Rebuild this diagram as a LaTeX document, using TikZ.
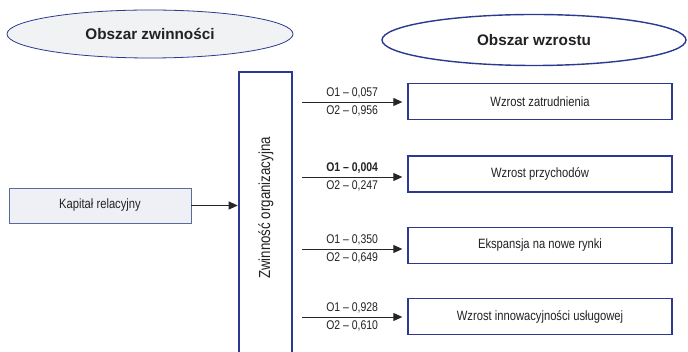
\documentclass[tikz,border=0pt]{standalone}
\usepackage{fontspec}
\setmainfont{Liberation Sans}
\newfontfamily\narrowsans[FakeStretch=0.83]{Liberation Sans}
\usetikzlibrary{shapes.geometric,arrows.meta}
\definecolor{navy}{HTML}{2B3990}
\definecolor{inktext}{HTML}{222222}
\definecolor{paleblue}{HTML}{EEF0F6}
\definecolor{palegray}{HTML}{F1F2F4}
\definecolor{framegray}{HTML}{5A6A9A}
\tikzset{
  x=1pt, y=-1pt,
  area/.style={ellipse, draw=navy, inner sep=0pt, text=inktext,
    font=\fontsize{15.3}{17}\selectfont\bfseries},
  outcome/.style={draw=navy, line width=1.3pt, fill=white, minimum width=264pt,
    minimum height=36pt, inner sep=0pt, text=inktext,
    font=\narrowsans\fontsize{13.5}{15}\selectfont},
  link/.style={-{Triangle[length=9pt,width=8pt]}, line width=0.9pt, draw=black!85},
  coef/.style={text=inktext, font=\narrowsans\fontsize{12.6}{14}\selectfont, inner sep=3.5pt},
}
\begin{document}
\begin{tikzpicture}
\useasboundingbox (0,0) rectangle (688,352);

% column headers
\node[area, fill=palegray, line width=0.8pt, minimum width=286pt, minimum height=48pt]
  (agility) at (150,34) {Obszar zwinności};
\node[area, fill=white, line width=1.4pt, minimum width=304pt, minimum height=51pt]
  (growth) at (534,40) {Obszar wzrostu};

% input
\node[draw=framegray, line width=0.8pt, fill=paleblue, minimum width=182pt,
  minimum height=35pt, inner sep=0pt, text=inktext,
  font=\narrowsans\fontsize{13.5}{15}\selectfont]
  (kapital) at (100,205.5) {Kapitał relacyjny};

% mediating factor (runs past the lower edge)
\node[draw=navy, line width=2.6pt, fill=white, minimum width=53pt, minimum height=288pt,
  inner sep=0pt] (zwinnosc) at (265.5,216) {};
\node[rotate=90, text=inktext, font=\narrowsans\fontsize{16}{18}\selectfont]
  (zwlabel) at (266,208) {Zwinność organizacyjna};

\draw[link] (kapital.east) -- (kapital.east -| zwinnosc.west);

% outcomes
\node[outcome] (o1) at (540,101.5) {Wzrost zatrudnienia};
\node[outcome] (o2) at (540,174) {Wzrost przychodów};
\node[outcome] (o3) at (540,245.5) {Ekspansja na nowe rynki};
\node[outcome] (o4) at (540,316.5) {Wzrost innowacyjności usługowej};

\coordinate (s1) at (302,102);
\coordinate (s2) at (302,177);
\coordinate (s3) at (302,249);
\coordinate (s4) at (302,317);

\draw[link] (s1) -- ([xshift=-5pt]o1.west |- s1)
  node[coef, midway, above] (c1a) {O1 – 0,057}
  node[coef, midway, below] (c1b) {O2 – 0,956};
\draw[link] (s2) -- ([xshift=-5pt]o2.west |- s2)
  node[coef, midway, above] (c2a) {\bfseries O1 – 0,004}
  node[coef, midway, below] (c2b) {O2 – 0,247};
\draw[link] (s3) -- ([xshift=-5pt]o3.west |- s3)
  node[coef, midway, above] (c3a) {O1 – 0,350}
  node[coef, midway, below] (c3b) {O2 – 0,649};
\draw[link] (s4) -- ([xshift=-5pt]o4.west |- s4)
  node[coef, midway, above] (c4a) {O1 – 0,928}
  node[coef, midway, below] (c4b) {O2 – 0,610};
\end{tikzpicture}
\end{document}
